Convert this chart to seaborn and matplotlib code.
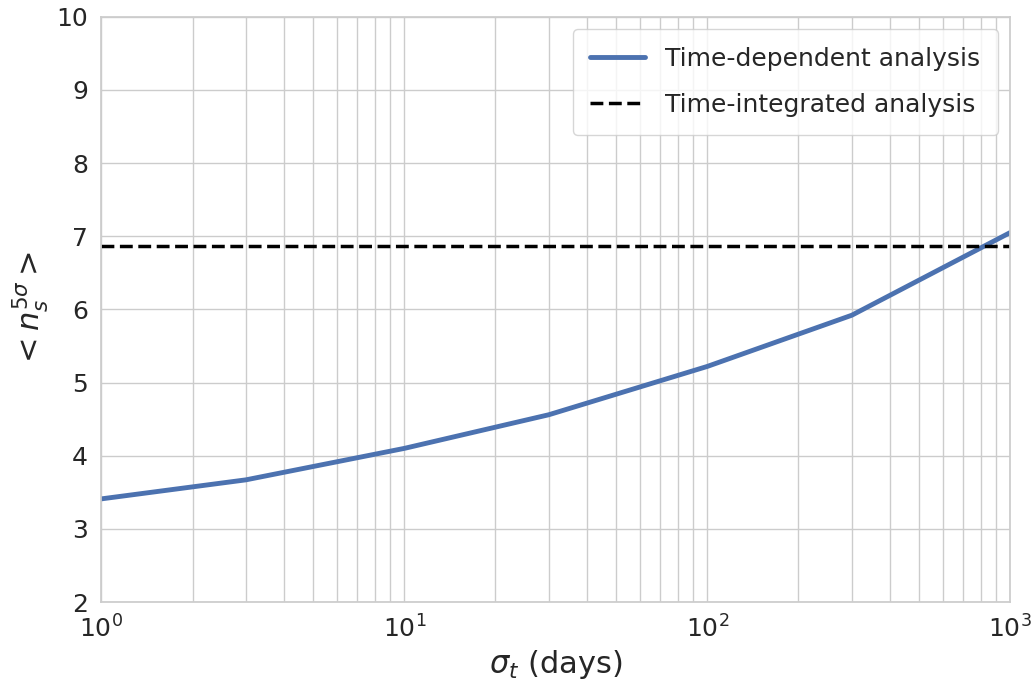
import numpy as np
import pandas as pd
import matplotlib
matplotlib.use("Agg")
import matplotlib.pyplot as plt
import seaborn as sns

# Data
sigma_t = [1, 3, 10, 30, 100, 300, 1000]
ns_time_dep = [3.41, 3.67, 4.10, 4.56, 5.22, 5.92, 7.05]
ns_time_int = 6.87

df = pd.DataFrame({"sigma_t": sigma_t, "ns": ns_time_dep})

sns.set_theme(style="whitegrid", font_scale=1.7)

fig, ax = plt.subplots(figsize=(10.34, 6.96), dpi=100)
sns.lineplot(data=df, x="sigma_t", y="ns", ax=ax, color="#4c72b0",
             linewidth=3.5, label="Time-dependent analysis")
ax.axhline(ns_time_int, color="black", linestyle="--", linewidth=2.5,
           label="Time-integrated analysis")

ax.set_xscale("log")
ax.set_xlim(1, 1000)
ax.set_ylim(2, 10)
ax.grid(True, which="both", axis="x")
ax.grid(True, which="major", axis="y")
ax.set_xlabel(r"$\sigma_t$ (days)", fontsize=22)
ax.set_ylabel(r"$<n_s^{5\sigma}>$", fontsize=22)
ax.tick_params(labelsize=18)
ax.legend(loc="upper right", fontsize=18, handlelength=2.2,
          borderpad=0.7, labelspacing=0.9)

fig.subplots_adjust(left=0.098, right=0.977, top=0.976, bottom=0.135)
plt.savefig("out.png")
